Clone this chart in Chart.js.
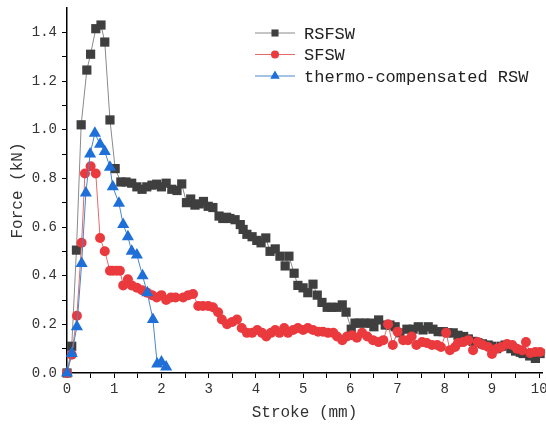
<!DOCTYPE html>
<html>
<head>
<meta charset="utf-8">
<script src="https://cdn.jsdelivr.net/npm/chart.js@4.4.1/dist/chart.umd.min.js"></script>
<style>
  html, body { margin: 0; padding: 0; background: #fff; }
</style>
</head>
<body>
<canvas id="chart" width="546" height="430"></canvas>
<script>
// values (stroke in mm, force in kN)
const rsfsw_x = [0, 0.1, 0.2, 0.3, 0.42, 0.5, 0.61, 0.72, 0.8, 0.91, 1.02, 1.14, 1.25, 1.37, 1.48, 1.59, 1.69, 1.8, 1.9, 2.0,
  2.1, 2.22, 2.33, 2.43, 2.53, 2.62, 2.71, 2.8, 2.89, 2.99, 3.09, 3.22, 3.3, 3.38, 3.45, 3.56, 3.67, 3.73, 3.81, 3.92,
  4.02, 4.11, 4.21, 4.3, 4.41, 4.51, 4.62, 4.7, 4.81, 4.89, 5.0, 5.1, 5.21, 5.3, 5.4, 5.51, 5.61, 5.72, 5.83, 5.91,
  6.02, 6.1, 6.2, 6.31, 6.42, 6.5, 6.6, 6.74, 6.84, 6.95, 7.05, 7.2, 7.33, 7.44, 7.54, 7.65, 7.75, 7.86, 7.97, 8.07,
  8.18, 8.28, 8.4, 8.5, 8.6, 8.7, 8.8, 8.92, 9.0, 9.1, 9.2, 9.28, 9.4, 9.5, 9.6, 9.66, 9.8, 9.92, 10.02]
const rsfsw_y = [0, 0.11, 0.505, 1.02, 1.245, 1.31, 1.415, 1.43, 1.36, 1.04, 0.84, 0.785, 0.785, 0.78, 0.765, 0.755, 0.765, 0.772, 0.776, 0.765,
  0.78, 0.755, 0.75, 0.777, 0.70, 0.715, 0.69, 0.695, 0.705, 0.685, 0.68, 0.645, 0.635, 0.64, 0.635, 0.63, 0.61, 0.59, 0.57, 0.56,
  0.545, 0.535, 0.555, 0.50, 0.51, 0.48, 0.44, 0.48, 0.41, 0.36, 0.35, 0.33, 0.365, 0.32, 0.29, 0.27, 0.27, 0.27, 0.28, 0.25,
  0.18, 0.205, 0.205, 0.205, 0.205, 0.19, 0.218, 0.197, 0.197, 0.19, 0.165, 0.18, 0.18, 0.19, 0.177, 0.19, 0.18, 0.17, 0.17, 0.165,
  0.165, 0.155, 0.15, 0.14, 0.13, 0.125, 0.12, 0.115, 0.11, 0.10, 0.11, 0.115, 0.10, 0.09, 0.085, 0.08, 0.07, 0.06, 0.08]

const sfsw_x = [0, 0.1, 0.21, 0.31, 0.38, 0.5, 0.61, 0.7, 0.8, 0.91, 0.97, 1.05, 1.12, 1.19, 1.29, 1.37, 1.48, 1.59, 1.7, 1.8,
  1.9, 2.0, 2.1, 2.2, 2.3, 2.46, 2.57, 2.67, 2.78, 2.88, 2.99, 3.09, 3.2, 3.28, 3.39, 3.5, 3.6, 3.7, 3.81, 3.92,
  4.03, 4.13, 4.22, 4.32, 4.41, 4.5, 4.6, 4.68, 4.79, 4.89, 5.0, 5.1, 5.21, 5.32, 5.42, 5.53, 5.64, 5.72, 5.83, 5.93,
  6.04, 6.14, 6.25, 6.36, 6.48, 6.6, 6.7, 6.8, 6.9, 7.0, 7.12, 7.22, 7.3, 7.4, 7.52, 7.62, 7.73, 7.84, 7.92, 8.03,
  8.11, 8.22, 8.28, 8.39, 8.5, 8.6, 8.7, 8.81, 8.92, 9.0, 9.1, 9.2, 9.32, 9.43, 9.53, 9.64, 9.72, 9.81, 9.92, 10.02]
const sfsw_y = [0, 0.075, 0.235, 0.535, 0.82, 0.85, 0.82, 0.555, 0.50, 0.42, 0.42, 0.42, 0.42, 0.36, 0.385, 0.36, 0.35, 0.34, 0.33, 0.32,
  0.31, 0.32, 0.30, 0.31, 0.31, 0.31, 0.32, 0.325, 0.275, 0.275, 0.275, 0.27, 0.25, 0.22, 0.20, 0.21, 0.22, 0.185, 0.165, 0.165,
  0.177, 0.165, 0.15, 0.165, 0.177, 0.165, 0.185, 0.165, 0.177, 0.185, 0.177, 0.185, 0.177, 0.17, 0.17, 0.165, 0.165, 0.15, 0.135, 0.15,
  0.155, 0.145, 0.165, 0.15, 0.135, 0.127, 0.135, 0.20, 0.115, 0.17, 0.135, 0.135, 0.15, 0.115, 0.127, 0.123, 0.115, 0.115, 0.107, 0.165,
  0.094, 0.107, 0.123, 0.127, 0.135, 0.094, 0.127, 0.115, 0.107, 0.078, 0.10, 0.107, 0.119, 0.115, 0.10, 0.094, 0.127, 0.082, 0.086, 0.086]

const rsw_x = [0, 0.1, 0.21, 0.31, 0.4, 0.49, 0.59, 0.7, 0.8, 0.91, 0.97, 1.1, 1.19, 1.29, 1.37, 1.48, 1.6, 1.7, 1.82, 1.91, 2.0, 2.1]
const rsw_y = [0, 0.08, 0.19, 0.45, 0.74, 0.90, 0.985, 0.94, 0.91, 0.846, 0.765, 0.698, 0.61, 0.56, 0.50, 0.485, 0.40, 0.33, 0.22, 0.037, 0.045, 0.025]

const series_names = ['RSFSW', 'SFSW', 'thermo-compensated RSW']
const x_tick_labels = ['0', '1', '2', '3', '4', '5', '6', '7', '8', '9', '10']
const y_tick_labels = ['0.0', '0.2', '0.4', '0.6', '0.8', '1.0', '1.2', '1.4']

const X_MAX = 10.06

function toPoints(xs, ys) {
    return xs.map((x, i) => ({ x: x, y: ys[i] }))
}

const FONT = "'Liberation Mono', 'DejaVu Sans Mono', monospace"

// legend drawn inside the plot, line + marker like the original
const legendBox = {
    id: 'legendBox',
    afterDraw(chart) {
        const ctx = chart.ctx
        const sizes = [5, 4, 5.5]
        chart.data.datasets.forEach((ds, i) => {
            const y = 33 + i * 21.5
            ctx.save()
            ctx.strokeStyle = ds.borderColor
            ctx.lineWidth = 1
            ctx.beginPath()
            ctx.moveTo(255, y)
            ctx.lineTo(295, y)
            ctx.stroke()
            ctx.fillStyle = ds.pointBackgroundColor
            Chart.helpers.drawPoint(ctx, { pointStyle: ds.pointStyle, radius: sizes[i], borderWidth: 0, rotation: 0 }, 275, y)
            ctx.fillStyle = '#222'
            ctx.font = "17px " + FONT
            ctx.textBaseline = 'middle'
            ctx.fillText(ds.label, 304, y + 1)
            ctx.restore()
        })
    }
}

const ctx = document.getElementById('chart')

new Chart(ctx, {
    type: 'line',
    data: {
        datasets: [
            {
                label: series_names[0],
                data: toPoints(rsfsw_x, rsfsw_y),
                borderColor: '#8a8a8a',
                borderWidth: 1,
                pointStyle: 'rect',
                pointRadius: 6.5,
                pointBackgroundColor: '#3f3f3f',
                pointBorderWidth: 0,
                order: 3
            },
            {
                label: series_names[1],
                data: toPoints(sfsw_x, sfsw_y),
                borderColor: '#e46a6a',
                borderWidth: 1,
                pointStyle: 'circle',
                pointRadius: 5,
                pointBackgroundColor: '#ea3a3e',
                pointBorderWidth: 0,
                order: 2
            },
            {
                label: series_names[2],
                data: toPoints(rsw_x, rsw_y),
                borderColor: '#4a86c8',
                borderWidth: 1,
                pointStyle: 'triangle',
                pointRadius: 7,
                pointBackgroundColor: '#1f6fd8',
                pointBorderWidth: 0,
                order: 1
            }
        ]
    },
    options: {
        responsive: false,
        animation: false,
        clip: false,
        elements: { line: { tension: 0 } },
        layout: { autoPadding: false, padding: { top: 8, right: 4, left: 0, bottom: 0 } },
        plugins: {
            legend: { display: false },
            tooltip: { enabled: false }
        },
        scales: {
            x: {
                type: 'linear',
                min: 0,
                max: X_MAX,
                afterFit(scale) { scale.height = 57; scale.paddingRight = 0; scale.paddingLeft = 0 },
                afterBuildTicks(scale) {
                    const t = []
                    for (let i = 0; i <= 20; i++) t.push({ value: i / 2 })
                    scale.ticks = t
                },
                border: { display: true, color: '#000', width: 1.5 },
                grid: { display: true, drawOnChartArea: false, drawTicks: true, tickLength: 5, color: '#000', lineWidth: 1 },
                ticks: {
                    color: '#333',
                    padding: 3,
                    maxRotation: 0,
                    autoSkip: false,
                    font: { family: FONT, size: 14 },
                    callback: (v) => Number.isInteger(v) ? x_tick_labels[v] : ''
                },
                title: {
                    display: true,
                    text: 'Stroke (mm)',
                    color: '#333',
                    font: { family: FONT, size: 16 },
                    padding: { top: 4, bottom: 8 }
                }
            },
            y: {
                type: 'linear',
                min: 0,
                max: 1.5,
                afterFit(scale) { scale.width = 67; scale.paddingTop = 0; scale.paddingBottom = 0 },
                afterBuildTicks(scale) {
                    const t = []
                    for (let i = 0; i <= 14; i++) t.push({ value: i / 10 })
                    scale.ticks = t
                },
                border: { display: true, color: '#000', width: 1.5 },
                grid: { display: true, drawOnChartArea: false, drawTicks: true, tickLength: 5, color: '#000', lineWidth: 1 },
                ticks: {
                    color: '#333',
                    padding: 5,
                    autoSkip: false,
                    font: { family: FONT, size: 14 },
                    callback: (v) => {
                        const k = Math.round(v * 10)
                        return k % 2 === 0 ? y_tick_labels[k / 2] : ''
                    }
                },
                title: {
                    display: true,
                    text: 'Force (kN)',
                    color: '#333',
                    font: { family: FONT, size: 16 },
                    padding: { top: 8, bottom: 4 }
                }
            }
        }
    },
    plugins: [legendBox]
})
</script>
</body>
</html>
